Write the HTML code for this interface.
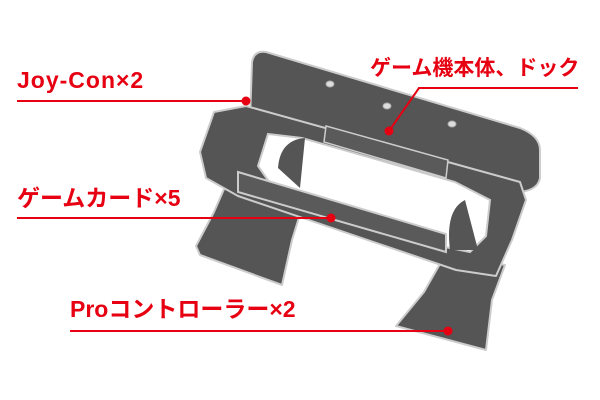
<!DOCTYPE html>
<html><head><meta charset="utf-8"><style>
html,body{margin:0;padding:0;background:#fff;}
svg{display:block}
text{font-family:"Liberation Sans","Noto Sans CJK JP",sans-serif;font-weight:bold;fill:#e60012;font-size:23px}
</style></head><body>
<svg width="600" height="400" viewBox="0 0 600 400" xmlns="http://www.w3.org/2000/svg">
<g fill="#555" stroke="#ccc" stroke-width="2" stroke-linejoin="round">
<path d="M252,62 Q254,50 266,52 L520,128 Q540,136 540,150 L540,178 Q538,190 520,192 L250,120 Z"/>
<path d="M228,180 L305,198 L292,240 L282,285 L200,255 L196,246 L214,212 Z"/>
<path d="M445,255 L505,265 L492,300 L486,350 L396,326 L424,292 Z"/>
<path d="M214,112 L246,106 L520,182 L526,200 L512,240 L496,276 L456,270 L238,196 L206,178 L200,152 Z"/>
</g>
<path d="M268,134 L302,138 L455,182 L490,200 L486,236 L470,252 L440,246 L272,186 L258,166 Z" fill="#fff" stroke="#ccc" stroke-width="2"/>
<path d="M278,168 Q280,140 305,138 L300,188 Z" fill="#555"/>
<path d="M450,250 Q445,210 465,200 L478,250 Z" fill="#555"/>
<path d="M238,172 L446,234 L446,252 L238,192 Z" fill="#5a5a5a" stroke="#ccc" stroke-width="2"/>
<path d="M326,126 L448,160 L446,178 L324,142 Z" fill="#5a5a5a" stroke="#ccc" stroke-width="1.5"/>
<g fill="#ddd" stroke="#aaa"><ellipse cx="330" cy="84" rx="4" ry="3"/><ellipse cx="387" cy="106" rx="4" ry="3"/><ellipse cx="452" cy="124" rx="4" ry="3"/></g>
<text x="17" y="88" style="letter-spacing:1px">Joy-Con×2</text>
<text x="370" y="75" style="font-size:21px">ゲーム機本体、ドック</text>
<text x="17" y="206">ゲームカード×5</text>
<text x="70" y="317">Proコントローラー×2</text>
<g stroke="#e60012" stroke-width="2" fill="none">
<line x1="17" y1="101" x2="246" y2="101"/>
<polyline points="578,88 419,88 389,131"/>
<line x1="17" y1="218" x2="331" y2="218"/>
<line x1="70" y1="331" x2="448" y2="331"/>
</g>
<g fill="#e60012"><circle cx="246" cy="101" r="4.5"/><circle cx="389" cy="131" r="4.5"/><circle cx="331" cy="218" r="4.5"/><circle cx="448" cy="331" r="4.5"/></g>
</svg>
</body></html>
